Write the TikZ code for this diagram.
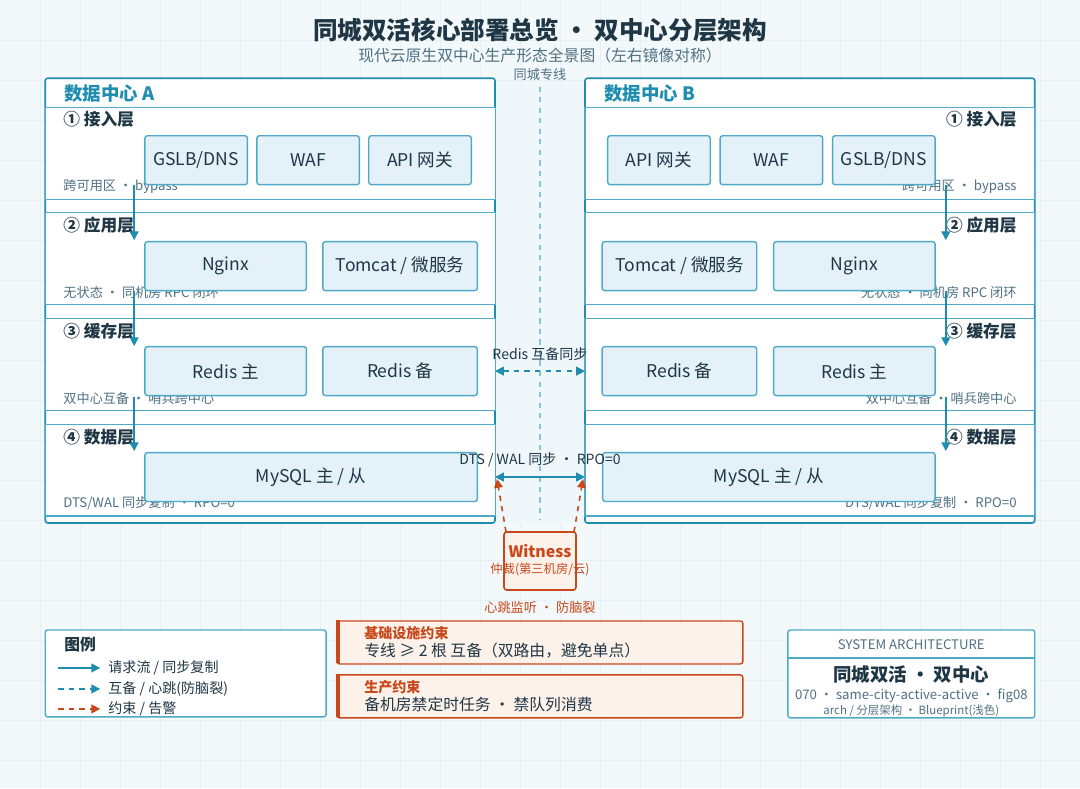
\documentclass[tikz,border=0pt]{standalone}
\usepackage{fontspec}
\setmainfont{Noto Sans CJK SC}
\usetikzlibrary{arrows.meta,positioning}
\definecolor{teal}{HTML}{1E8DB0}
\definecolor{boxfill}{HTML}{E4F1F8}
\definecolor{boxline}{HTML}{4FAAC8}
\definecolor{ink}{HTML}{1F3645}
\definecolor{muted}{HTML}{4F7183}
\definecolor{warn}{HTML}{C8471B}
\definecolor{warnfill}{HTML}{FDF2E9}
\definecolor{bg}{HTML}{F3F8FB}
\tikzset{
  tip/.tip={Triangle[length=5pt,width=5pt]},
  comp/.style={draw=boxline,fill=boxfill,rounded corners=1.5pt,line width=0.8pt,text=ink,font=\fontsize{10}{12}\selectfont},
  band/.style={draw=boxline,fill=white,line width=0.6pt},
  layer/.style={font=\bfseries\fontsize{9.5}{12}\selectfont,text=ink},
  note/.style={font=\fontsize{7.5}{9}\selectfont,text=muted},
  flow/.style={-tip,teal,line width=0.9pt},
  sync/.style={tip-tip,teal,line width=0.9pt,dashed},
  legsync/.style={-tip,teal,line width=0.9pt,dashed},
  alarm/.style={-tip,warn,line width=0.9pt,dashed}
}
\newcommand{\comp}[5]{\node[comp,minimum width=#4*0.02cm-0.8pt,minimum height=49*0.02cm] (#1) at (#2,#3) {#5};}
\begin{document}
\begin{tikzpicture}[x=0.02cm,y=-0.02cm]
\fill[bg] (0,0) rectangle (1080,788);
\foreach \g in {40,80,...,1040} \draw[white!85!boxline,line width=0.3pt] (\g,0) -- (\g,788);
\foreach \g in {40,80,...,760} \draw[white!85!boxline,line width=0.3pt] (0,\g) -- (1080,\g);
\useasboundingbox (0,0) rectangle (1080,788);
% title
\node[font=\bfseries\fontsize{14}{17}\selectfont,text=ink] (title) at (540,30) {同城双活核心部署总览 · 双中心分层架构};
\node[font=\fontsize{9}{11}\selectfont,text=muted] (subtitle) at (540,55) {现代云原生双中心生产形态全景图（左右镜像对称）};
% centre strip
\fill[boxfill!60!white] (495,85) rectangle (585,523);
\node[note] (line) at (540,74) {同城专线};
\coordinate (lineend) at (540,520);
\draw[boxline!70,dashed,line width=0.8pt] (line) -- (lineend);
% data centres
\foreach \x in {45,585}{
  \draw[draw=teal,fill=white,line width=0.9pt,rounded corners=1.5pt] (\x,78) rectangle ++(450,445);
  \draw[teal,line width=0.6pt] (\x,107) -- ++(450,0);
  \foreach \t/\b in {107/199,212/304,318/410,424/516}
    \draw[band] (\x,\t) rectangle (\x+450,\b);
}
\node[font=\bfseries\fontsize{10.5}{13}\selectfont,text=teal,anchor=west] (dca) at (58,93) {数据中心 A};
\node[font=\bfseries\fontsize{10.5}{13}\selectfont,text=teal,anchor=west] (dcb) at (598,93) {数据中心 B};
% left layers
\node[layer,anchor=west] (la1) at (57,119) {① 接入层};
\node[layer,anchor=west] (la2) at (57,225) {② 应用层};
\node[layer,anchor=west] (la3) at (57,331) {③ 缓存层};
\node[layer,anchor=west] (la4) at (57,437) {④ 数据层};
\node[note,anchor=west] (na1) at (57,186) {跨可用区 · bypass};
\node[note,anchor=west] (na2) at (57,292) {无状态 · 同机房 RPC 闭环};
\node[note,anchor=west] (na3) at (57,398) {双中心互备 · 哨兵跨中心};
\node[note,anchor=west] (na4) at (57,503) {DTS/WAL 同步复制 · RPO=0};
\comp{gslba}{196}{160}{104}{GSLB/DNS}
\comp{wafa}{308}{160}{104}{WAF}
\comp{apia}{420}{160}{104}{API 网关}
\comp{nginxa}{225.5}{266}{163}{Nginx}
\comp{tomcata}{400}{266}{156}{Tomcat / 微服务}
\comp{redisma}{225.5}{371}{163}{Redis 主}
\comp{redissa}{400}{371}{156}{Redis 备}
\comp{mysqla}{311}{477}{334}{MySQL 主 / 从}
% right layers
\node[layer,anchor=east] (lb1) at (1023,119) {① 接入层};
\node[layer,anchor=east] (lb2) at (1023,225) {② 应用层};
\node[layer,anchor=east] (lb3) at (1023,331) {③ 缓存层};
\node[layer,anchor=east] (lb4) at (1023,437) {④ 数据层};
\node[note,anchor=east] (nb1) at (1023,186) {跨可用区 · bypass};
\node[note,anchor=east] (nb2) at (1023,292) {无状态 · 同机房 RPC 闭环};
\node[note,anchor=east] (nb3) at (1023,398) {双中心互备 · 哨兵跨中心};
\node[note,anchor=east] (nb4) at (1023,503) {DTS/WAL 同步复制 · RPO=0};
\comp{apib}{659}{160}{104}{API 网关}
\comp{wafb}{771.5}{160}{104}{WAF}
\comp{gslbb}{884}{160}{104}{GSLB/DNS}
\comp{tomcatb}{679.5}{266}{156}{Tomcat / 微服务}
\comp{nginxb}{854.5}{266}{163}{Nginx}
\comp{redissb}{679.5}{371}{156}{Redis 备}
\comp{redismb}{854.5}{371}{163}{Redis 主}
\comp{mysqlb}{769}{477}{334}{MySQL 主 / 从}
% request flow
\foreach \x in {134,946}{
  \coordinate (f1) at (\x,185); \coordinate (t1) at (\x,240);
  \coordinate (f2) at (\x,291); \coordinate (t2) at (\x,346);
  \coordinate (f3) at (\x,397); \coordinate (t3) at (\x,451);
  \draw[flow] (f1) -- (t1);
  \draw[flow] (f2) -- (t2);
  \draw[flow] (f3) -- (t3);
}
% cross-centre links
\coordinate (ra) at (495,371); \coordinate (rb) at (585,371);
\draw[sync] (ra) -- node[above=2pt,font=\fontsize{8}{10}\selectfont,text=ink] {Redis 互备同步} (rb);
\coordinate (da) at (495,477); \coordinate (db) at (585,477);
\draw[tip-tip,teal,line width=1pt] (da) -- node[above=2pt,font=\fontsize{8}{10}\selectfont,text=ink] {DTS / WAL 同步 · RPO=0} (db);
% witness
\node[draw=warn,fill=warnfill,line width=0.9pt,rounded corners=1.5pt,minimum width=72*0.02cm,minimum height=58*0.02cm] (witness) at (540,561) {};
\node[font=\bfseries\fontsize{9}{11}\selectfont,text=warn] (wt) at (540,551) {Witness};
\node[font=\fontsize{7}{9}\selectfont,text=warn] (ws) at (540,570) {仲裁(第三机房/云)};
\node[font=\fontsize{7.5}{9}\selectfont,text=warn] (wn) at (540,608) {心跳监听 · 防脑裂};
\coordinate (wa) at (506,532); \coordinate (wb) at (574,532);
\coordinate (ta) at (497,479); \coordinate (tb) at (583,479);
\draw[alarm] (wa) -- (ta);
\draw[alarm] (wb) -- (tb);
% legend
\node[draw=boxline,fill=white,line width=0.8pt,rounded corners=1.5pt,minimum width=281*0.02cm,minimum height=87*0.02cm] (legend) at (185.5,673.5) {};
\node[font=\bfseries\fontsize{9}{11}\selectfont,text=ink,anchor=west] (lt) at (58,645) {图例};
\foreach \y/\st/\txt in {668/flow/{请求流 / 同步复制},689/legsync/{互备 / 心跳(防脑裂)},709/alarm/{约束 / 告警}}{
  \coordinate (l0) at (58,\y); \coordinate (l1) at (100,\y);
  \draw[\st] (l0) -- (l1);
  \node[font=\fontsize{8}{10}\selectfont,text=ink,anchor=west] at (102,\y) {\txt};
}
% constraints
\foreach \y/\head/\body in {642.5/基础设施约束/专线 ≥ 2 根 互备（双路由，避免单点）,696.5/生产约束/备机房禁定时任务 · 禁队列消费}{
  \node[draw=warn,fill=warnfill,line width=0.8pt,rounded corners=1.5pt,minimum width=406*0.02cm,minimum height=43*0.02cm] (c) at (540,\y) {};
  \fill[warn] (c.north west) rectangle ++(4,43);
  \node[font=\bfseries\fontsize{8}{10}\selectfont,text=warn,anchor=west] at (358,\y-9) {\head};
  \node[font=\fontsize{9}{11}\selectfont,text=ink,anchor=west] at (358,\y+8) {\body};
}
% system card
\node[draw=boxline,fill=white,line width=0.8pt,rounded corners=1.5pt,minimum width=247*0.02cm,minimum height=88*0.02cm] (card) at (911.5,674) {};
\draw[boxline,line width=0.8pt] (788,658) -- (1035,658);
\node[font=\fontsize{7.5}{9}\selectfont,text=muted] (ct) at (911.5,645) {SYSTEM ARCHITECTURE};
\node[font=\bfseries\fontsize{10.5}{12}\selectfont,text=ink] (cn) at (911.5,674) {同城双活 · 双中心};
\node[font=\fontsize{7.5}{9}\selectfont,text=muted] (cid) at (911.5,696) {070 · same-city-active-active · fig08};
\node[font=\fontsize{6.5}{8}\selectfont,text=muted] (cs) at (911.5,711) {arch / 分层架构 · Blueprint(浅色)};
\end{tikzpicture}
\end{document}
